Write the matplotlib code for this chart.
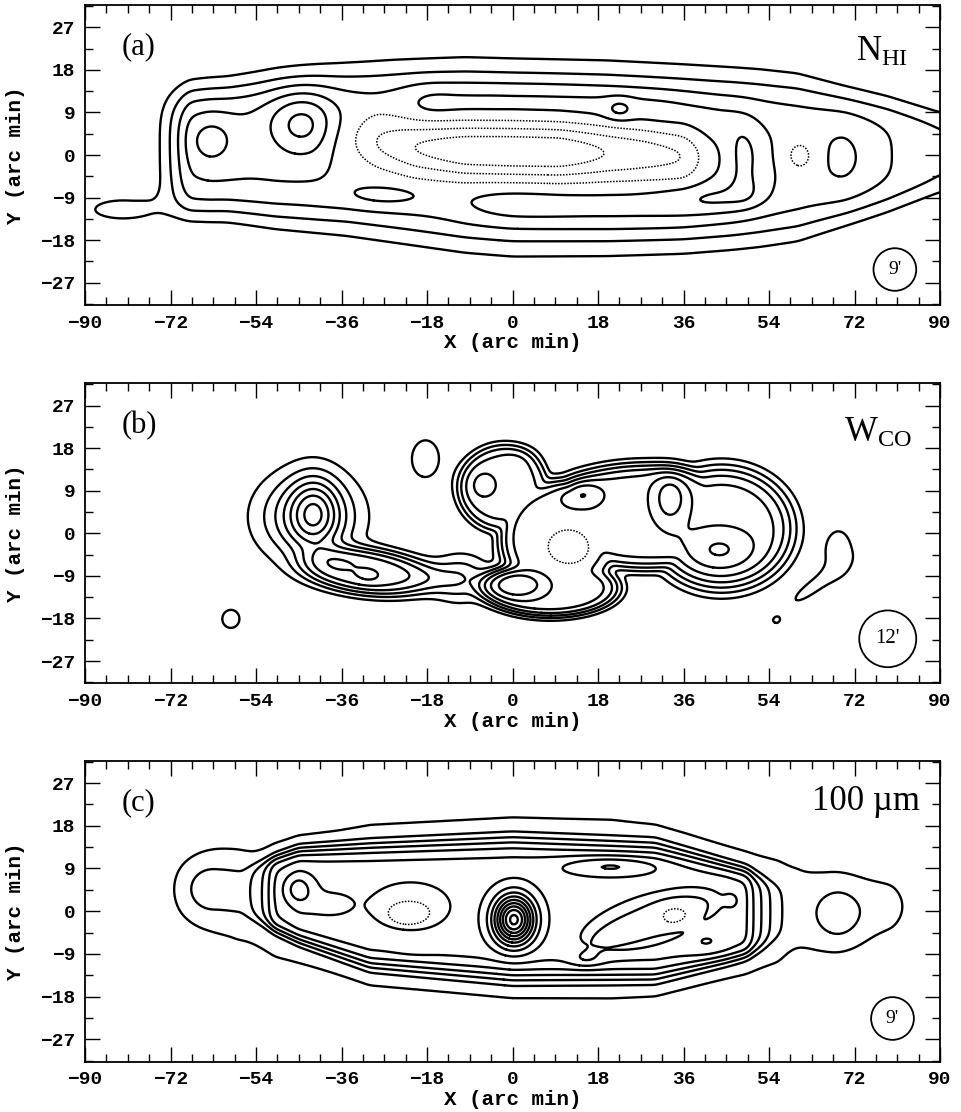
import numpy as np
import matplotlib
matplotlib.use("Agg")
import matplotlib.pyplot as plt
from matplotlib.collections import LineCollection
from matplotlib.patches import Circle
from matplotlib.path import Path
from matplotlib.ticker import MultipleLocator
import contourpy

plt.rcParams['mathtext.fontset'] = 'custom'
plt.rcParams['mathtext.rm'] = 'Liberation Serif'
plt.rcParams['mathtext.it'] = 'Liberation Serif:italic'

# ---------------- axes / text ----------------
XLIM = (-90, 90)
YLIM = (-31.7, 31.7)
XTICKS = [-90, -72, -54, -36, -18, 0, 18, 36, 54, 72, 90]
YTICKS = [-27, -18, -9, 0, 9, 18, 27]
XLABEL = "X (arc min)"
YLABEL = "Y (arc min)"
PANEL_TAGS = ["(a)", "(b)", "(c)"]
PANEL_TITLES = [r"$\mathrm{N_{HI}}$", r"$\mathrm{W_{CO}}$", "100 µm"]
TITLE_POS = [(83.2, 19.8), (84.1, 19.3), (85.8, 21.3)]
BEAM_DIAM = [9, 12, 9]
BEAM_LABEL = ["9'", "12'", "9'"]
BEAM_POS = [(80.5, -24.2), (79.0, -22.3), (80.0, -22.6)]

# ---------------- model grid ----------------
gx = np.arange(-96.0, 96.01, 0.3)
gy = np.arange(-36.0, 36.01, 0.3)
X, Y = np.meshgrid(gx, gy)

# ---------------- (a) HI: flat-topped disk, central hole, clumps ----------------
HI_KX = [-100, -80, -76, -74, -72, -70, -68, -64, -60, -50, -40, -35, -25, -10, 0, 20, 36, 46, 52, 60, 70, 79, 90, 100]
HI_KA = [0.0, 0.0, 0.45, 1.0, 2.0, 3.0, 4.0, 4.15, 4.15, 4.1, 4.0, 3.9, 3.9, 3.95, 3.95, 3.95, 3.95, 3.9, 3.75, 3.6, 3.5, 3.0, 2.2, 1.8]
HI_KS = [9, 9, 9.5, 10, 10.5, 11, 11.3, 11.6, 11.8, 13, 13.8, 14.2, 15, 16, 16.2, 16, 15.5, 15, 14.7, 14, 11.7, 10, 7.5, 6.5]
HI_KC = [1.5, 1.5, 1.5, 1.5, 1.4, 1.3, 1.3, 1.25, 1.25, 1.25, 1.25, 1.2, 0.8, 0.0, -0.55, -0.7, -0.85, -0.75, -0.65, -0.5, -0.2, 0.2, 0.6, 0.8]
HI_P = 4.0
HOLE_KX = [-42, -33, -28.5, -20.5, -10, 0, 10, 20, 28, 36, 38.5, 41, 45]
HOLE_KD = [0.0, 1.0, 2.0, 3.0, 3.85, 3.95, 3.9, 2.95, 2.5, 2.0, 1.2, 0.5, 0.0]
HOLE_KC = [3.5, 3.3, 2.8, 1.6, 1.0, 0.8, 0.6, 0.4, 0.2, -0.3, -0.4, -0.4, -0.4]
HOLE_SY = 4.2
HI_X0 = [-63.5, -44.4, -18, -12, -3, 6, 15, 24, 32, 40, 46, 51, 52, 48, 41, 32, 22, 12, 3, -5,
         48.6, 42.5, 49.5, 22.5, -27, 69.8, 60.5, -82]
HI_Y0 = [3.0, 6.7, 11.2, 11.3, 11.5, 11.4, 11.0, 10.3, 9.4, 7.8, 5.5, 1.5, -3, -7.5, -10.2, -11.3, -11.5, -11.3, -11.0, -10.7,
         -0.5, -9.3, -7.5, 9.7, -8.8, -0.5, -0.2, -11.5]
HI_SX = [3.5, 4.8, 4, 6, 6, 6, 6, 6, 6, 6, 5, 4, 4, 5, 6, 6, 6, 6, 6, 6,
         2.2, 6.5, 2.0, 1.8, 7, 4.5, 2.6, 9]
HI_SY = [3.5, 4.8, 3, 3, 3, 3, 3, 3, 3, 3, 3, 3, 3, 3, 3, 3, 3, 3, 3, 3,
         5.0, 1.5, 2.0, 1.3, 1.6, 5.2, 2.6, 2.8]
HI_AMP = [1.4, 2.4, 0.6, 0.6, 0.6, 0.6, 0.6, 0.6, 0.6, 0.4, 0.35, 0.35, 0.35, 0.5, 0.55, 0.55, 0.55, 0.55, 0.55, 0.5,
          1.0, 0.75, 0.4, 1.3, 0.85, 0.75, -1.1, 1.3]
HI_LEVELS = [1, 2, 3, 4, 5, 6]

# ---------------- (b) CO: flat-topped plateaus (combined by max) + clumps ----------------
COP_X0 = [10, 28, 44, 8, -2, -30]
COP_Y0 = [-1.0, 3.5, 1, -11.5, 9.5, -8.2]
COP_SX = [12, 22, 14, 13.8, 9.0, 12]
COP_SY = [11.5, 10.5, 12, 5.8, 8.6, 4.2]
COP_AMP = [5.6, 5.6, 5.6, 5.6, 4.3, 5.5]
COP_TH = [0, 0, 0, 0, 0, -6]
COP_PW = [8, 8, 6, 8, 8, 4]
CO_X0 = [-41.7, -43, -30.2, -11, 14.3, 33.2, 43.5, 1.2, -6, 3, 11.7, -18.3, -59.3, 68.6, 63, 55.6]
CO_Y0 = [4.3, 3.5, -9, -9.5, 8.4, 7.4, -3.5, -10.9, 10.2, 17, -2.8, 15.8, -18.1, -3.8, -11.5, -18.6]
CO_SX = [3.6, 7.5, 2, 4.5, 3.0, 2.5, 4.95, 3.7, 2.3, 3.5, 3.6, 4.0, 3.3, 2.8, 5.2, 1.8]
CO_SY = [5.5, 6.5, 1, 3.5, 2.0, 3.8, 3.07, 1.85, 2.3, 2.0, 3.0, 5.5, 3.5, 4.5, 1.2, 1.5]
CO_AMP = [3.5, 4.2, 0.8, 3.0, 1.9, 2.2, 1.59, 2.67, 1.3, 0.6, -1.2, 1.3, 1.2, 1.6, 1.6, 1.08]
CO_TH = [0, 0, 0, 0, 0, 0, 0, 0, 0, 0, 0, 0, 0, 0, 37, 0]
CO_LEVELS = [1, 2, 3, 4, 5, 6, 7]

# ---------------- (c) 100 micron: flat-topped body + halo + features ----------------
IR_KX = [-100, -62, -57, -54.6, -52.5, -51.2, -50, -45, -30, 0, 30, 45, 48.5, 49.6, 50.6, 52.4, 54.2, 56.6, 60, 64, 100]
IR_KA = [0, 0, 0.7, 1.7, 2.7, 3.7, 4.7, 5.35, 5.35, 5.35, 5.35, 5.35, 5.1, 4.7, 3.7, 2.7, 1.7, 0.7, 0, 0, 0]
IR_KS = [5, 4, 4.5, 5.5, 6.3, 6.8, 7.3, 9, 11.8, 13.6, 13, 9.5, 8.7, 8.4, 8, 7.2, 6.3, 5.3, 4.5, 4, 4]
IR_KC = [4.5, 4.5, 4.0, 4.0, 3.9, 3.8, 3.7, 3.4, 1.2, 0.5, 0.0, -0.3, -0.3, -0.3, -0.3, -0.3, -0.2, 0, 0.3, 0.5, 0.5]
IR_P = 7.0
IR_HX = [-100, -75, -70, -64, -58, -50, -37, -30, 0, 21, 36, 49, 56, 60, 66, 72, 80, 86, 100]
IR_HA = [0, 0, 0.45, 0.75, 1.1, 1.3, 1.3, 1.3, 1.3, 1.3, 1.3, 1.3, 1.3, 1.2, 0.9, 0.75, 0.6, 0.2, 0]
IR_HS = [10, 10, 11, 12.5, 13.5, 16, 19.7, 22.3, 24.2, 24.7, 21.4, 17.7, 14.7, 12.5, 12, 11.5, 10, 9, 9]
IR_HC = [2, 2, 2.5, 2.5, 2.0, 2.0, 1.3, 1.4, 1.25, 0.9, 0.35, -0.35, 0, 1.0, 1.0, 1.0, 1.0, 1.0, 1.0]
IR_X0 = [-64, 68.5, 79, -45.2, -38.5, -21.5, -21.8, -20.5, 0.3, 20.8, 29, 29, 34.3, 41, 46.5, 15.5]
IR_Y0 = [4.8, -0.6, 1, 4.7, 1.5, 1.0, -0.2, -7.5, -1.8, 9.5, -2.0, -2.1, -1.0, -7, 2.2, -10.3]
IR_SX = [5, 4, 5, 2.3, 4.5, 8.2, 4.2, 2.8, 2.9, 7.0, 14.5, 11.5, 3.2, 3.0, 1.0, 2.4]
IR_SY = [4.8, 4.5, 5, 2.3, 2.0, 5.1, 2.2, 0.8, 3.5, 1.3, 5.0, 3.2, 2.0, 1.8, 1.3, 1.0]
IR_AMP = [1.9, 1.9, 0.65, 2.0, 0.7, 0.65, -0.6, 0.75, 9.0, 1.9, 0.95, -0.9, -1.0, 0.6, 0.7, 1.1]
IR_TH = [0, 0, 0, 0, 0, 0, 0, 0, 0, 0, 18, 18, 0, 0, 0, 0]
IR_PW = [2, 2, 2, 2, 2, 6, 6, 2, 2, 2, 6, 6, 2, 2, 2, 2]
IR_LEVELS = list(range(1, 16))


def comps(x0, y0, sx, sy, amp, th=None, pw=None, combine='sum'):
    parts = []
    for i in range(len(x0)):
        t = np.deg2rad(th[i]) if th is not None else 0.0
        p = pw[i] if pw is not None else 2
        dx = X - x0[i]
        dy = Y - y0[i]
        u = dx * np.cos(t) + dy * np.sin(t)
        v = -dx * np.sin(t) + dy * np.cos(t)
        r2 = (u / sx[i]) ** 2 + (v / sy[i]) ** 2
        parts.append(amp[i] * np.exp(-0.5 * r2 ** (p / 2.0)))
    if combine == 'max':
        return np.maximum.reduce(parts)
    return np.sum(parts, axis=0)


def smooth(Z, sig_units):
    sig = sig_units / 0.3
    r = int(3 * sig) + 1
    k = np.exp(-0.5 * (np.arange(-r, r + 1) / sig) ** 2)
    k /= k.sum()
    Zp = np.pad(Z, r, mode='edge')
    Zp = np.apply_along_axis(np.convolve, 1, Zp, k, mode='same')
    Zp = np.apply_along_axis(np.convolve, 0, Zp, k, mode='same')
    return Zp[r:-r, r:-r]


def band(kx, ka, ks, kc, p):
    A = np.interp(X, kx, ka)
    S = np.interp(X, kx, ks)
    C = np.interp(X, kx, kc)
    return A * np.exp(-0.5 * np.abs((Y - C) / S) ** p)


def field_hi():
    Z = band(HI_KX, HI_KA, HI_KS, HI_KC, HI_P)
    Z -= band(HOLE_KX, HOLE_KD, [HOLE_SY] * len(HOLE_KX), HOLE_KC, 2.0)
    Z += comps(HI_X0, HI_Y0, HI_SX, HI_SY, HI_AMP)
    return smooth(Z, 0.9)


def field_co():
    Z = comps(COP_X0, COP_Y0, COP_SX, COP_SY, COP_AMP, COP_TH, COP_PW, combine='max')
    Z += comps(CO_X0, CO_Y0, CO_SX, CO_SY, CO_AMP, CO_TH)
    return smooth(Z, 0.7)


def field_ir():
    Z = band(IR_KX, IR_KA, IR_KS, IR_KC, IR_P)
    Z += band(IR_HX, IR_HA, IR_HS, IR_HC, 2.0)
    Z += comps(IR_X0, IR_Y0, IR_SX, IR_SY, IR_AMP, IR_TH, IR_PW)
    return smooth(Z, 0.6)


def zval(Z, x, y):
    i = int(np.clip(round((y - gy[0]) / 0.3), 0, len(gy) - 1))
    j = int(np.clip(round((x - gx[0]) / 0.3), 0, len(gx) - 1))
    return Z[i, j]


def is_depression(seg, Z, lev):
    if len(seg) < 5 or not np.allclose(seg[0], seg[-1], atol=1e-6):
        return False
    path = Path(seg)
    d = np.gradient(seg, axis=0)
    n = np.column_stack([-d[:, 1], d[:, 0]])
    n /= (np.linalg.norm(n, axis=1, keepdims=True) + 1e-12)
    idx = np.linspace(0, len(seg) - 2, min(16, len(seg) - 1)).astype(int)
    votes = tot = 0
    for i in idx:
        for s in (0.25, -0.25):
            q = seg[i] + s * n[i]
            if path.contains_point(q):
                votes += zval(Z, q[0], q[1]) < lev
                tot += 1
                break
    return tot > 0 and votes > tot / 2


def draw_map(ax, Z, levels):
    gen = contourpy.contour_generator(gx, gy, Z)
    solid, dotted = [], []
    for lev in levels:
        for seg in gen.lines(lev):
            (dotted if is_depression(seg, Z, lev) else solid).append(seg)
    ax.add_collection(LineCollection(solid, colors='k', linewidths=1.7,
                                     capstyle='round', joinstyle='round'))
    ax.add_collection(LineCollection(dotted, colors='k', linewidths=1.1,
                                     linestyles=[(0, (1.0, 1.0))]))


fig = plt.figure(figsize=(9.61, 11.12), dpi=100)
W, H = 961.0, 1112.0
PANEL_PIX = [(5, 305), (383.3, 683.3), (760.7, 1061.7)]
fields = [field_hi(), field_co(), field_ir()]
levels = [HI_LEVELS, CO_LEVELS, IR_LEVELS]

tickfont = dict(family='Liberation Mono', weight='bold', size=14)
labfont = dict(family='Liberation Mono', weight='bold', size=15)
for k in range(3):
    top, bot = PANEL_PIX[k]
    ax = fig.add_axes([85 / W, 1 - bot / H, 855 / W, (bot - top) / H])
    draw_map(ax, fields[k], levels[k])
    ax.set_xlim(*XLIM)
    ax.set_ylim(*YLIM)
    ax.set_xticks(XTICKS)
    ax.set_yticks(YTICKS)
    ax.set_xticklabels([f"{v}".replace('-', '\u2212') for v in XTICKS], fontdict=tickfont)
    ax.set_yticklabels([f"{v}".replace('-', '\u2212') for v in YTICKS], fontdict=tickfont)
    ax.xaxis.set_minor_locator(MultipleLocator(4.5))
    ax.yaxis.set_minor_locator(MultipleLocator(4.5))
    ax.tick_params(which='both', direction='in', top=True, right=True, width=1.0, color='k')
    ax.tick_params(which='major', length=11, pad=7)
    ax.tick_params(which='minor', length=5.5)
    for sp in ax.spines.values():
        sp.set_linewidth(1.3)
    ax.set_xlabel(XLABEL, fontdict=labfont)
    ax.set_ylabel(YLABEL, fontdict=labfont)
    ax.xaxis.set_label_coords(0.5, -0.095)
    ax.yaxis.set_label_coords(-0.07, 0.5)
    ax.text(-82.2, 22.8, PANEL_TAGS[k], ha='left', va='center', family='Liberation Serif', fontsize=22)
    tx, ty = TITLE_POS[k]
    ax.text(tx, ty, PANEL_TITLES[k], ha='right', va='baseline', family='Liberation Serif', fontsize=25)
    bx, by = BEAM_POS[k]
    ax.add_patch(Circle((bx, by), BEAM_DIAM[k] / 2, fill=False, lw=1.3, color='k'))
    ax.text(bx, by, BEAM_LABEL[k], ha='center', va='center', family='Liberation Serif',
            fontsize=14 if k != 1 else 15)

fig.savefig("out.png", dpi=100)
